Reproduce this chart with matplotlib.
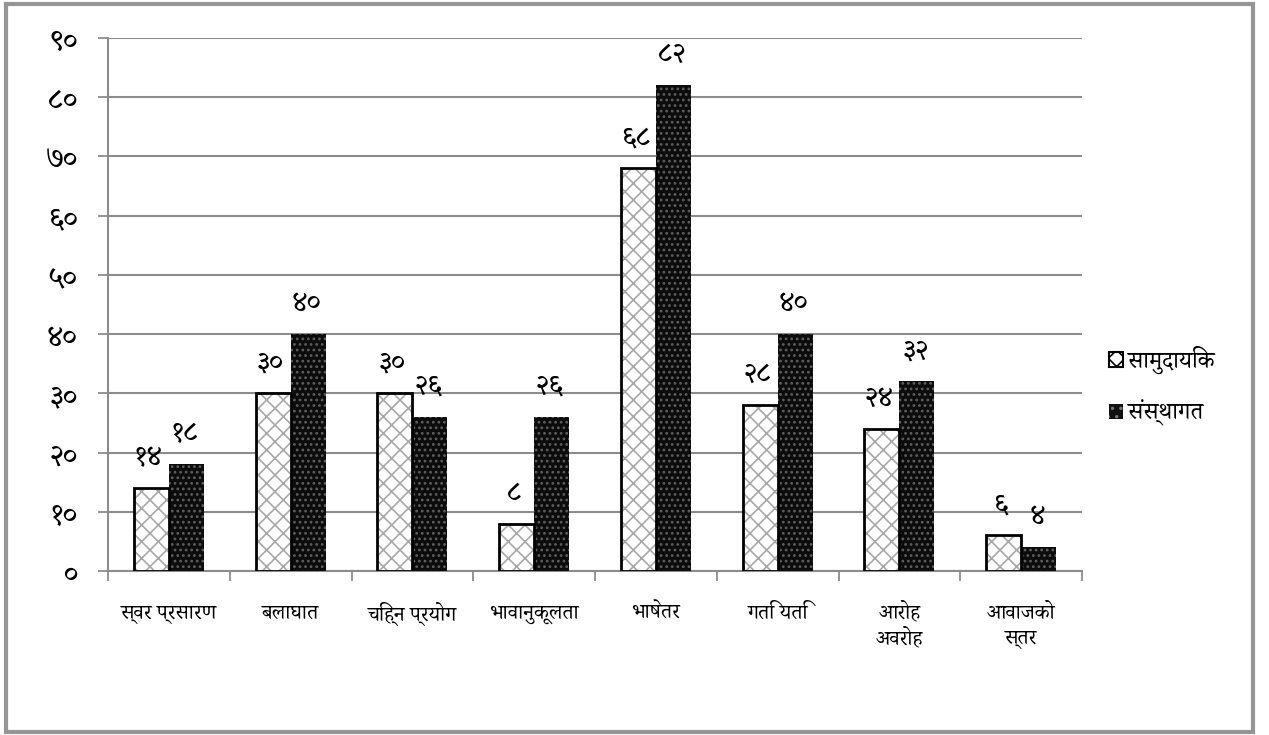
import numpy as np
import matplotlib
matplotlib.use("Agg")
import matplotlib.pyplot as plt
from matplotlib.patches import Patch, Rectangle

plt.rcParams['font.family'] = ['Noto Serif Devanagari', 'DejaVu Sans']
plt.rcParams['hatch.linewidth'] = 1.2

# आँकडा
वर्गहरू = ['स्वर प्रसारण', 'बलाघात', 'चिह्न प्रयोग', 'भावानुकूलता', 'भाषेतर',
          'गति यति', 'आरोह\nअवरोह', 'आवाजको\nस्तर']
सामुदायिक = [14, 30, 30, 8, 68, 28, 24, 6]
संस्थागत = [18, 40, 26, 26, 82, 40, 32, 4]
शृङ्खला = ['सामुदायिक', 'संस्थागत']
y_ticks = np.arange(0, 91, 10)

अंक = str.maketrans('0123456789', '०१२३४५६७८९')
def nep(n):
    return str(n).translate(अंक)

fig = plt.figure(figsize=(12.69, 7.35), dpi=100)
ax = fig.add_axes([108/1269, 1-571/735, (1082-108)/1269, (571-38)/735])

# बाहिरी किनारा
fig.patches.append(Rectangle((6/1269, 3/735), 1247/1269, 728/735, transform=fig.transFigure,
                             fill=False, edgecolor='#959595', linewidth=3))

x = np.arange(len(वर्गहरू))
w = 0.288

# सामुदायिक: सेतो जाली
ax.bar(x - w/2, सामुदायिक, w, facecolor='white', edgecolor='#a8a8a8', hatch='xx', linewidth=0, zorder=3)
ax.bar(x - w/2, सामुदायिक, w, fill=False, edgecolor='black', linewidth=2, zorder=4)
# संस्थागत: कालो थोप्ला
ax.bar(x + w/2, संस्थागत, w, facecolor='#0c0c0c', edgecolor='#5e5e5e', hatch='...', linewidth=0, zorder=3)

for xi, v in zip(x, सामुदायिक):
    ax.annotate(nep(v), (xi - w/2, v), xytext=(-2, 22), textcoords='offset points',
                ha='center', va='center', fontsize=21, zorder=5)
for xi, v in zip(x, संस्थागत):
    ax.annotate(nep(v), (xi + w/2, v), xytext=(-1, 22), textcoords='offset points',
                ha='center', va='center', fontsize=21, zorder=5)

ax.set_xlim(-0.5, len(वर्गहरू) - 0.5)
ax.set_ylim(0, 90)
ax.set_yticks(y_ticks, [nep(t) for t in y_ticks])
ax.set_xticks(x, वर्गहरू)
ax.set_xticks(np.arange(len(वर्गहरू) + 1) - 0.5, minor=True)
ax.tick_params(axis='x', which='major', length=0, pad=22, labelsize=15)
ax.tick_params(axis='x', which='minor', length=7, width=1.3, color='#8c8c8c', direction='out')
ax.tick_params(axis='y', length=7, width=1.3, color='#8c8c8c', pad=15, labelsize=22)
ax.yaxis.grid(True, color='#8c8c8c', linewidth=1.5, zorder=0)
ax.set_axisbelow(True)
for s in ['top', 'right']:
    ax.spines[s].set_visible(False)
for s in ['left', 'bottom']:
    ax.spines[s].set_color('#8c8c8c')
    ax.spines[s].set_linewidth(1.5)

handles = [Patch(facecolor='white', edgecolor='black', hatch='xx', linewidth=1.5),
           Patch(facecolor='#111111', edgecolor='#777777', hatch='..', linewidth=0)]
fig.legend(handles, शृङ्खला, loc='center left', bbox_to_anchor=(1088/1269, 1-386/735),
           frameon=False, fontsize=17, handlelength=0.6, handleheight=0.6,
           handletextpad=0.2, labelspacing=1.1)

fig.savefig('out.png')
